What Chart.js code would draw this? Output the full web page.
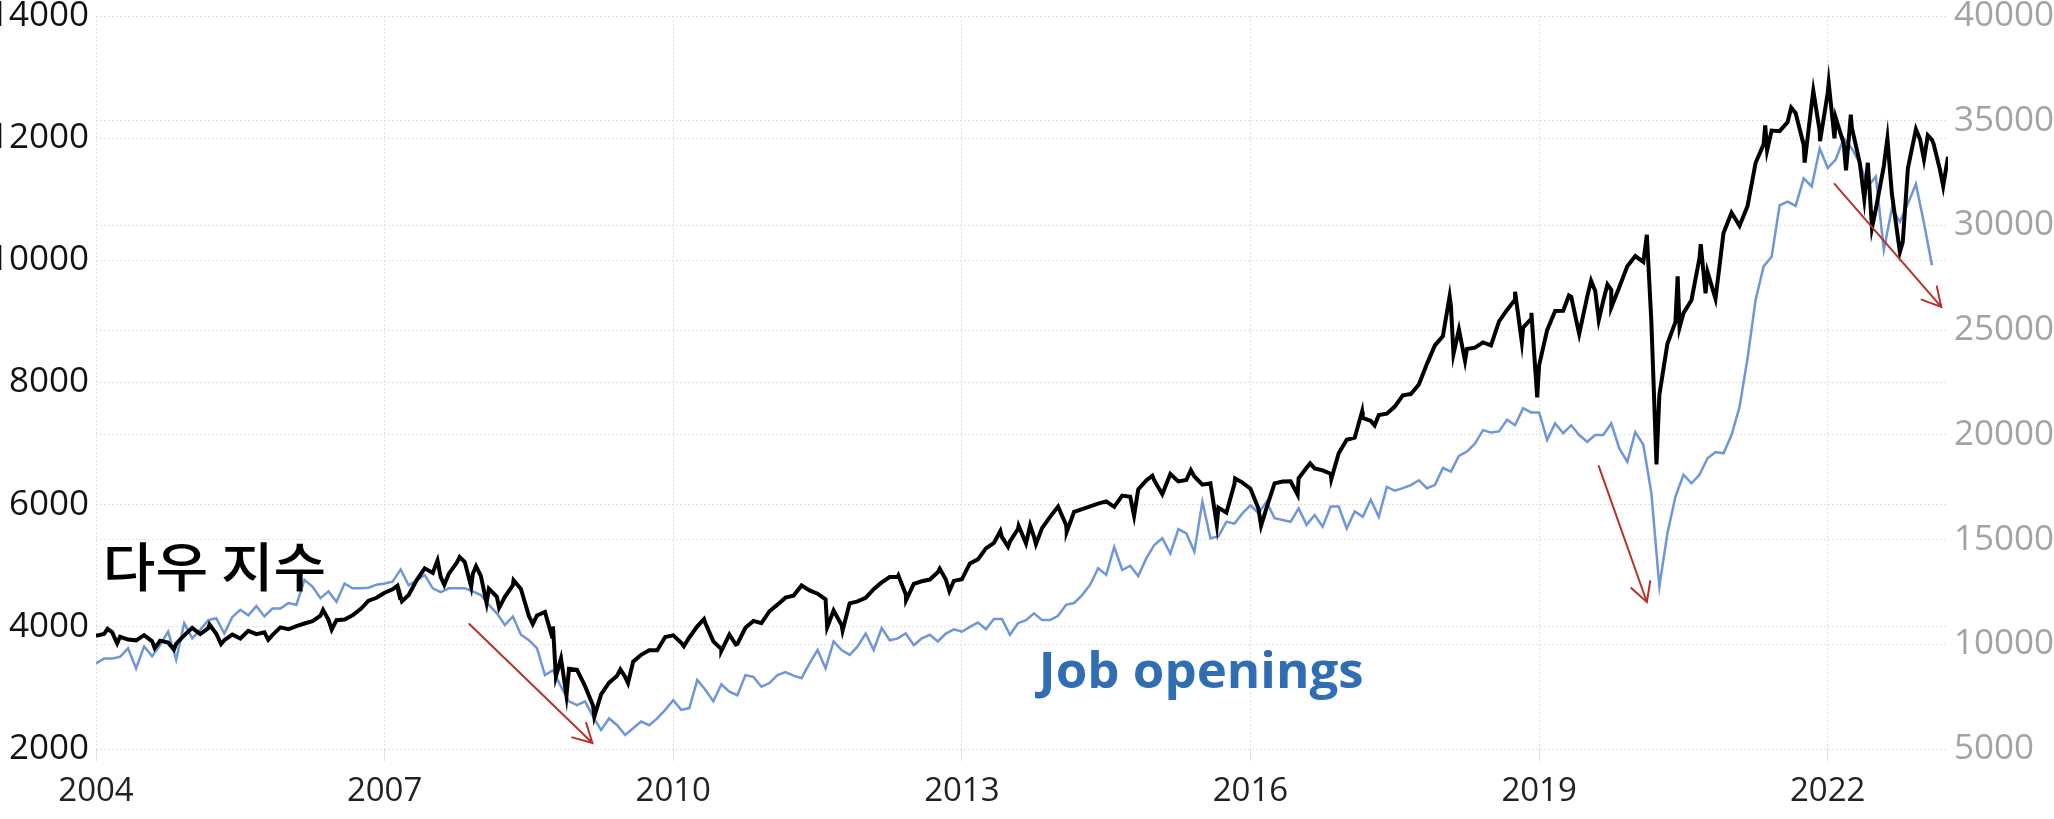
<!DOCTYPE html>
<html>
<head>
<meta charset="utf-8">
<script src="https://cdn.jsdelivr.net/npm/chart.js"></script>
<style>
  html, body { margin: 0; padding: 0; background: #fff; }
  #wrap { width: 2054px; height: 819px; position: relative; }
</style>
</head>
<body>
<div id="wrap"><canvas id="grafico"></canvas></div>
<script>
// axis ticks
const yearTicks = [2004, 2007, 2010, 2013, 2016, 2019, 2022]
const jobTicks = [2000, 4000, 6000, 8000, 10000, 12000, 14000]
const dowTicks = [5000, 10000, 15000, 20000, 25000, 30000, 35000, 40000]

// job openings (thousands), monthly from Jan 2004
const jobStart = 2004
const jobOpenings = [
  3400, 3480, 3480, 3510, 3650, 3320, 3680, 3520, 3700, 3920, 3460, 4060,   // 2004
  3810, 3950, 4110, 4140, 3890, 4160, 4280, 4190, 4340, 4170, 4300, 4300,   // 2005
  4390, 4360, 4770, 4660, 4470, 4580, 4410, 4710, 4630, 4630, 4640, 4690,   // 2006
  4710, 4740, 4940, 4680, 4760, 4850, 4630, 4570, 4630, 4630, 4630, 4580,   // 2007
  4520, 4360, 4220, 4030, 4170, 3870, 3780, 3650, 3210, 3290, 3020, 2780,   // 2008
  2720, 2780, 2530, 2310, 2500, 2390, 2230, 2340, 2450, 2390, 2500, 2640,   // 2009
  2800, 2640, 2670, 3130, 2970, 2780, 3060, 2940, 2880, 3210, 3180, 3020,   // 2010
  3080, 3210, 3260, 3200, 3160, 3400, 3620, 3320, 3760, 3620, 3540, 3680,   // 2011
  3890, 3620, 3980, 3780, 3810, 3890, 3700, 3810, 3870, 3760, 3890, 3960,   // 2012
  3920, 4000, 4070, 3960, 4130, 4130, 3870, 4060, 4110, 4220, 4110, 4110,   // 2013
  4180, 4360, 4390, 4520, 4690, 4960, 4850, 5310, 4930, 5000, 4830, 5120,   // 2014
  5340, 5450, 5200, 5600, 5530, 5230, 6050, 5450, 5480, 5720, 5690, 5860,   // 2015
  5990, 5860, 6050, 5780, 5750, 5720, 5940, 5670, 5830, 5640, 5970, 5970,   // 2016
  5610, 5890, 5800, 6080, 5800, 6290, 6230, 6270, 6320, 6400, 6270, 6320,   // 2017
  6600, 6540, 6800, 6870, 7000, 7220, 7180, 7200, 7390, 7300, 7580, 7510,   // 2018
  7510, 7060, 7330, 7170, 7300, 7140, 7030, 7140, 7140, 7330, 6920, 6700,   // 2019
  7190, 6980, 6190, 4660, 5530, 6130, 6490, 6350, 6490, 6760, 6860, 6840,   // 2020
  7140, 7600, 8400, 9350, 9900, 10060, 10900, 10960, 10890, 11340, 11210, 11830, // 2021
  11510, 11650, 12000, 11830, 11590, 11210, 11370, 10170, 10850, 10630, 10930, 11250, // 2022
  10610, 9920                                                                // 2023
]

// Dow index, month-end closes from Jan 2004
const dowMonthEnd = [
  10488, 10584, 10358, 10226, 10188, 10435, 10140, 10174, 10080, 10027, 10428, 10783, // 2004
  10490, 10766, 10504, 10193, 10467, 10275, 10641, 10482, 10569, 10440, 10806, 10718, // 2005
  10865, 10993, 11109, 11367, 11168, 11150, 11186, 11381, 11679, 12081, 12221, 12463, // 2006
  12622, 12269, 12354, 13063, 13628, 13409, 13212, 13358, 13896, 13930, 13372, 13265, // 2007
  12650, 12266, 12263, 12820, 12638, 11350, 11378, 11544, 10851, 9325, 8829, 8776,    // 2008
  8001, 7063, 7609, 8168, 8500, 8447, 9172, 9496, 9712, 9713, 10345, 10428,           // 2009
  10067, 10325, 10857, 11009, 10137, 9774, 10466, 10015, 10788, 11118, 11006, 11578,  // 2010
  11892, 12226, 12320, 12811, 12570, 12414, 12143, 11614, 10913, 11955, 12046, 12218, // 2011
  12633, 12952, 13212, 13214, 12393, 12880, 13009, 13091, 13437, 13096, 13026, 13104, // 2012
  13861, 14054, 14579, 14840, 15116, 14910, 15500, 14810, 15130, 15546, 16086, 16577, // 2013
  15699, 16322, 16458, 16581, 16717, 16827, 16563, 17098, 17043, 17391, 17828, 17823, // 2014
  17165, 18133, 17776, 17841, 18011, 17620, 17690, 16528, 16285, 17664, 17720, 17425, // 2015
  16466, 16517, 17685, 17774, 17787, 17930, 18432, 18401, 18308, 18142, 19124, 19763, // 2016
  19864, 20812, 20663, 20941, 21009, 21350, 21891, 21948, 22405, 23377, 24272, 24719, // 2017
  26149, 25029, 24103, 24163, 24416, 24271, 25415, 25965, 26458, 25116, 25538, 23327, // 2018
  25000, 25916, 25929, 26593, 24815, 26600, 26864, 26403, 26917, 27046, 28051, 28538, // 2019
  28256, 25409, 21917, 24346, 25383, 25813, 26428, 28430, 27782, 26502, 29638, 30606, // 2020
  29983, 30932, 32982, 33875, 34529, 34503, 34935, 35361, 33844, 35820, 34484, 36338, // 2021
  35132, 33893, 34678, 32977, 32990, 30775, 32845, 31510, 28726, 32733, 34590, 33147, // 2022
  34086, 32657, 33274                                                                  // 2023
]

// Dow intra-month highs and lows seen in the picture: [year, value]
const dowSwings = [
  [2004.00, 10409], [2004.12, 10737], [2004.22, 10048], [2004.61, 9815], [2004.81, 9750],
  [2005.18, 10940], [2005.30, 10012], [2005.79, 10216],
  [2006.36, 11642], [2006.45, 10706],
  [2007.13, 12786], [2007.16, 12216], [2007.18, 12050], [2007.55, 14000], [2007.62, 12846],
  [2007.78, 14164], [2007.90, 12743], [2007.95, 13727],
  [2008.06, 11971], [2008.19, 11740], [2008.34, 13058], [2008.54, 10963], [2008.74, 10365],
  [2008.78, 8451], [2008.89, 7552],
  [2009.18, 6547], [2009.45, 8800], [2009.53, 8146],
  [2010.11, 9908], [2010.32, 11205], [2010.50, 9686], [2010.65, 9985],
  [2011.60, 10810], [2011.76, 10655],
  [2012.34, 13279], [2012.42, 12101], [2012.77, 13610], [2012.87, 12543],
  [2013.40, 15410], [2013.48, 14660], [2013.59, 15658], [2013.71, 15676], [2013.77, 14776],
  [2014.09, 15372], [2014.79, 16141], [2014.98, 18053],
  [2015.38, 18312], [2015.65, 15700], [2015.84, 17918],
  [2016.11, 15660], [2016.49, 17140], [2016.62, 18636], [2016.84, 17888],
  [2017.16, 21115], [2017.29, 20453],
  [2018.07, 26617], [2018.11, 23860], [2018.23, 23533], [2018.75, 26828], [2018.82, 24443],
  [2018.92, 25826], [2018.98, 21792],
  [2019.31, 26656], [2019.42, 24815], [2019.54, 27359], [2019.62, 25479], [2019.71, 27182],
  [2019.75, 26078],
  [2020.12, 29551], [2020.22, 18591], [2020.44, 27572], [2020.46, 25128], [2020.68, 29100],
  [2020.73, 26763],
  [2021.35, 34778], [2021.37, 33587], [2021.62, 35625], [2021.76, 33002], [2021.85, 36432],
  [2021.92, 34022],
  [2022.01, 36799], [2022.07, 34160], [2022.19, 32632], [2022.24, 35294], [2022.38, 31253],
  [2022.46, 29888], [2022.62, 34152], [2022.78, 29210], [2022.96, 34108],
  [2023.04, 34303], [2023.10, 33900], [2023.20, 31875], [2023.26, 33485]
]

// annotations, placed in data units
const arrows = [
  [2007.88, 10970, 2009.16, 5290],
  [2019.62, 18510, 2020.12, 12020],
  [2022.07, 31980, 2023.18, 26110]
]

const jobPoints = jobOpenings.map((v, i) => ({ x: jobStart + i / 12, y: v }))
const dowPoints = dowMonthEnd.map((v, i) => ({ x: jobStart + (i + 1) / 12, y: v }))
  .concat(dowSwings.map(p => ({ x: p[0], y: p[1] })))
  .sort((a, b) => a.x - b.x)

const noPad = (w, h) => scale => {
  if (w) scale.width = w
  if (h) scale.height = h
  scale.paddingTop = 0
  scale.paddingBottom = 0
  scale.paddingLeft = 0
  scale.paddingRight = 0
}
const setTicks = list => axis => { axis.ticks = list.map(v => ({ value: v })) }

const extras = {
  id: 'extras',
  afterDatasetsDraw(chart) {
    const c = chart.ctx
    const sx = chart.scales.x, sy = chart.scales.y, s2 = chart.scales.y2
    c.save()
    // red arrows
    c.strokeStyle = '#b8322c'
    c.lineWidth = 2
    c.lineCap = 'round'
    arrows.forEach(a => {
      const x0 = sx.getPixelForValue(a[0]), y0 = s2.getPixelForValue(a[1])
      const x1 = sx.getPixelForValue(a[2]), y1 = s2.getPixelForValue(a[3])
      const ang = Math.atan2(y1 - y0, x1 - x0)
      c.beginPath()
      c.moveTo(x0, y0)
      c.lineTo(x1, y1)
      c.moveTo(x1 - 21 * Math.cos(ang - 0.5), y1 - 21 * Math.sin(ang - 0.5))
      c.lineTo(x1, y1)
      c.lineTo(x1 - 21 * Math.cos(ang + 0.5), y1 - 21 * Math.sin(ang + 0.5))
      c.stroke()
    })
    // labels
    c.textAlign = 'left'
    c.fillStyle = '#000'
    c.font = '500 53px "Noto Sans CJK KR"'
    c.textBaseline = 'middle'
    const kx = sx.getPixelForValue(2004.07), ky = sy.getPixelForValue(4990)
    c.save()
    c.translate(kx, ky)
    c.scale(1.08, 1)
    c.fillText('다우 지수', 0, 0)
    c.restore()
    c.fillStyle = '#2f6eb3'
    c.font = 'bold 51px "Open Sans"'
    c.textBaseline = 'alphabetic'
    c.fillText('Job openings', sx.getPixelForValue(2013.8), sy.getPixelForValue(3000))
    c.restore()
  }
}

const gridColor = '#e0e0e0'

new Chart(document.getElementById('grafico'), {
  type: 'line',
  data: {
    datasets: [
      {
        label: 'Dow',
        data: dowPoints,
        yAxisID: 'y2',
        borderColor: '#000',
        borderWidth: 4,
        pointRadius: 0,
        tension: 0
      },
      {
        label: 'Job openings',
        data: jobPoints,
        yAxisID: 'y',
        borderColor: '#6e96d8',
        borderWidth: 2.5,
        pointRadius: 0,
        tension: 0
      }
    ]
  },
  options: {
    responsive: true,
    maintainAspectRatio: false,
    animation: false,
    events: [],
    layout: { padding: { top: 16, left: 0, right: 0, bottom: 0 } },
    plugins: { legend: { display: false }, tooltip: { enabled: false } },
    scales: {
      x: {
        type: 'linear',
        min: 2004,
        max: 2023.25,
        afterBuildTicks: setTicks(yearTicks),
        afterFit: noPad(0, 70),
        grid: { color: gridColor, tickLength: 12, tickColor: gridColor },
        border: { display: false, dash: [2, 2] },
        ticks: {
          color: '#222',
          font: { family: 'Open Sans', size: 33 },
          padding: 11,
          maxRotation: 0,
          callback: v => String(v)
        }
      },
      y: {
        position: 'left',
        min: 2000,
        max: 14000,
        afterBuildTicks: setTicks(jobTicks),
        afterFit: noPad(96, 0),
        grid: { color: gridColor, drawTicks: false },
        border: { display: false, dash: [2, 2] },
        ticks: {
          color: '#111',
          font: { family: 'Open Sans', size: 35 },
          padding: 7,
          callback: v => String(v)
        }
      },
      y2: {
        position: 'right',
        min: 5000,
        max: 40000,
        afterBuildTicks: setTicks(dowTicks),
        afterFit: noPad(106, 0),
        grid: { color: gridColor, drawTicks: false },
        border: { display: false, dash: [2, 2] },
        ticks: {
          color: '#a3a3a3',
          font: { family: 'Open Sans', size: 35 },
          padding: 6,
          callback: v => String(v)
        }
      }
    }
  },
  plugins: [extras]
})
</script>
</body>
</html>
